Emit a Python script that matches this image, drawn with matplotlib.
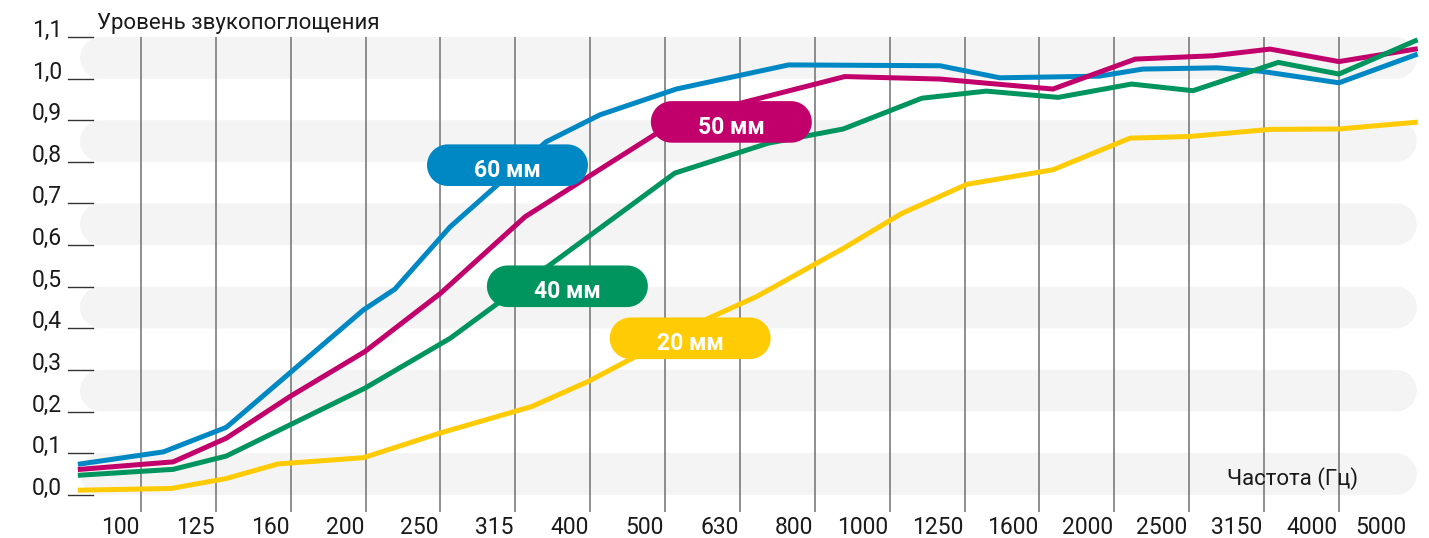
import matplotlib
matplotlib.use("Agg")
import matplotlib.pyplot as plt
import matplotlib.patches as patches
import numpy as np

plt.rcParams['font.family'] = ['Roboto', 'DejaVu Sans']

# x = position along the frequency bands (band index units), y = absorption
freq_labels = ['100', '125', '160', '200', '250', '315', '400', '500', '630',
               '800', '1000', '1250', '1600', '2000', '2500', '3150', '4000', '5000']
y_levels = [0.0, 0.1, 0.2, 0.3, 0.4, 0.5, 0.6, 0.7, 0.8, 0.9, 1.0, 1.1]

x_60 = [0.19, 1.30, 2.14, 3.97, 4.39, 5.13, 6.41, 7.13, 8.15, 9.65, 11.67, 12.47,
        13.80, 14.38, 15.37, 15.95, 17.00, 18.02]
y_60 = [0.074, 0.103, 0.162, 0.444, 0.494, 0.644, 0.848, 0.913, 0.975, 1.033, 1.031, 1.002,
        1.006, 1.023, 1.026, 1.018, 0.990, 1.057]

x_50 = [0.19, 1.43, 2.14, 2.99, 3.99, 5.00, 6.13, 8.20, 10.40, 11.67, 13.18, 14.28,
        15.32, 16.08, 17.00, 18.02]
y_50 = [0.061, 0.079, 0.136, 0.236, 0.344, 0.484, 0.668, 0.904, 1.005, 0.999, 0.975, 1.047,
        1.055, 1.071, 1.041, 1.071]

x_40 = [0.19, 1.43, 2.14, 3.99, 5.13, 8.13, 9.38, 10.38, 11.43, 12.29, 13.25, 14.23,
        15.05, 16.19, 17.00, 18.02]
y_40 = [0.047, 0.061, 0.093, 0.256, 0.376, 0.773, 0.845, 0.879, 0.953, 0.970, 0.955, 0.987,
        0.971, 1.039, 1.011, 1.091]

x_20 = [0.19, 1.40, 2.14, 2.83, 3.97, 4.99, 6.22, 6.97, 8.58, 9.22, 10.38, 11.16,
        12.03, 13.18, 14.21, 15.01, 16.08, 17.00, 18.02]
y_20 = [0.011, 0.015, 0.039, 0.074, 0.089, 0.148, 0.212, 0.272, 0.424, 0.476, 0.592, 0.676,
        0.746, 0.781, 0.857, 0.861, 0.878, 0.879, 0.895]

series = [
    ('20 мм', x_20, y_20, '#FFCB05', (7.26, 0.326)),
    ('60 мм', x_60, y_60, '#0088C4', (4.82, 0.742)),
    ('50 мм', x_50, y_50, '#C2006B', (7.81, 0.846)),
    ('40 мм', x_40, y_40, '#00945E', (5.62, 0.451)),
]

W, H = 1429, 538
fig = plt.figure(figsize=(W / 100, H / 100), dpi=100)
ax = fig.add_axes([0, 0, 1, 1])
xmin, xmax = -0.883, 18.203
ymin, ymax = -0.104, 1.189
ax.set_xlim(xmin, xmax)
ax.set_ylim(ymin, ymax)
ax.axis('off')

# pixels per data unit, for round ends that stay round
px_x = W / (xmax - xmin)
px_y = H / (ymax - ymin)

def pill(x0, y0, w, h, color, z):
    ry = h / 2
    rx = ry * px_y / px_x
    t = np.linspace(-np.pi / 2, np.pi / 2, 30)
    cy = y0 + ry
    right = np.column_stack([x0 + w - rx + rx * np.cos(t), cy + ry * np.sin(t)])
    left = np.column_stack([x0 + rx - rx * np.cos(t), cy - ry * np.sin(t)])
    ax.add_patch(patches.Polygon(np.vstack([right, left]), closed=True,
                                 fc=color, ec='none', zorder=z))

# grey bands
for k in range(6):
    pill(0.186, k * 0.2, 18.04 - 0.186, 0.1, '#F4F4F4', 0)

# vertical grid lines
ax.vlines(np.arange(1, 18), -0.042, 1.1, color='#707070', lw=1.1, zorder=1)

# y ticks
for v in y_levels:
    ax.plot([0.025, 0.36], [v, v], color='#333333', lw=1.0, zorder=1)
    ax.text(-0.055, v, f"{v:.1f}".replace('.', ','), ha='right', va='baseline',
            fontsize=16.5, color='#1a1a1a')

# x labels, right aligned to the grid lines
for i, lab in enumerate(freq_labels):
    xp = i + 1 - 0.02 if i < len(freq_labels) - 1 else 17.9
    ax.text(xp, -0.0945, lab, ha='right', va='baseline', fontsize=16.5, color='#1a1a1a')

ax.text(0.414, 1.119, 'Уровень звукопоглощения', ha='left', va='baseline',
        fontsize=16, color='#1a1a1a')
ax.text(17.25, 0.023, 'Частота (Гц)', ha='right', va='baseline',
        fontsize=16, color='#1a1a1a')

for name, xs, ys, col, (bx, by) in series:
    ax.plot(xs, ys, color=col, lw=3.6, zorder=3, solid_joinstyle='miter')

pw, ph = 2.15, 0.1
for name, xs, ys, col, (bx, by) in series:
    pill(bx, by, pw, ph, col, 5)
    ax.text(bx + pw / 2, by + 0.021, name, ha='center', va='baseline',
            fontsize=16.5, fontweight='bold', color='white', zorder=6)

fig.savefig('out.png', dpi=100)
